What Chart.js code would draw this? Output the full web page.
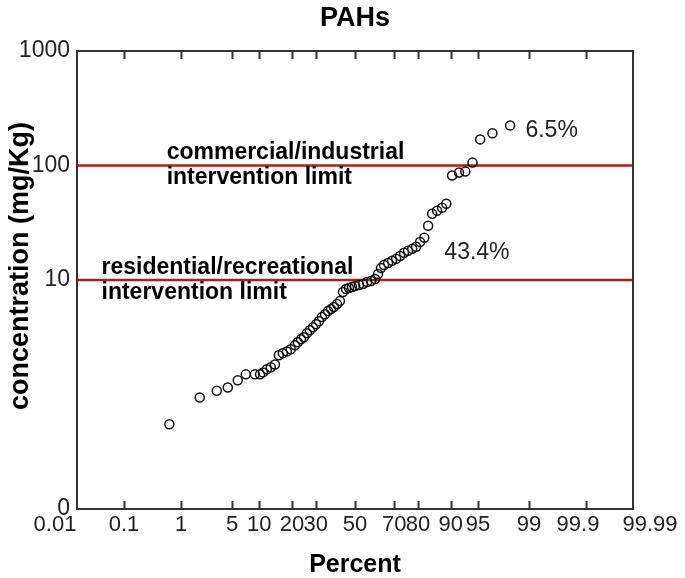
<!DOCTYPE html>
<html>
<head>
<meta charset="utf-8">
<script src="https://cdn.jsdelivr.net/npm/chart.js@4"></script>
<style>
  body { margin: 0; background: #fff; }
</style>
</head>
<body>
<canvas id="pahChart" width="685" height="578"></canvas>
<script>
// percent (normal probability scale) and concentration of each sample
const percent = [0.65, 1.89, 3.22, 4.44, 5.84, 7.20, 9.01, 10.2, 10.9, 11.9,
    13.0, 14.2, 15.4, 16.7, 18.1, 19.5, 21.1, 22.2, 23.5, 24.7,
    26.0, 27.3, 28.7, 30.1, 31.5, 32.9, 34.4, 35.9, 37.4, 38.9,
    40.5, 42.0, 43.6, 45.2, 46.8, 48.4, 50.0, 52.1, 54.3, 56.4,
    58.5, 60.6, 62.1, 63.6, 65.1, 67.1, 69.0, 70.9, 72.7, 74.4,
    76.1, 77.8, 79.3, 80.8, 82.3, 83.6, 84.9, 86.4, 87.8, 88.9,
    90.3, 91.8, 93.0, 94.2, 95.3, 96.7, 98.1];
const concentration = [0.55, 0.94, 1.08, 1.15, 1.33, 1.50, 1.50, 1.50, 1.56, 1.66,
    1.73, 1.83, 2.20, 2.29, 2.38, 2.48, 2.69, 2.86, 3.04, 3.16,
    3.43, 3.64, 3.87, 4.11, 4.37, 4.74, 5.03, 5.35, 5.57, 5.80,
    6.16, 6.54, 7.85, 8.34, 8.51, 8.68, 8.86, 9.04, 9.22, 9.60,
    9.80, 10.2, 11.3, 12.7, 13.5, 14.1, 14.7, 15.3, 16.2, 17.3,
    18.0, 18.7, 19.5, 21.5, 23.4, 29.8, 37.9, 40.3, 42.8, 46.4,
    81.7, 86.8, 88.6, 106, 169, 191, 224];

const xTicks = [0.01, 0.1, 1, 5, 10, 20, 30, 50, 70, 80, 90, 95, 99, 99.9, 99.99];
const yTicks = [0.1, 10, 100, 1000];
const yTickLabels = ['0', '10', '100', '1000'];
const limits = [100, 10];

const notes = [
    { lines: ['commercial/industrial', 'intervention limit'], x: 0.587, y: 130, bold: true },
    { lines: ['residential/recreational', 'intervention limit'], x: 0.0348, y: 12.7, bold: true },
    { lines: ['6.5%'], x: 98.87, y: 200, bold: false },
    { lines: ['43.4%'], x: 88.4, y: 17.4, bold: false }
];

const FONT = '"Liberation Sans", Arial, sans-serif';
// the end labels of the percent axis sit a little off their ticks
const labelNudge = { '0.01': -22, '99.9': -8, '99.99': 17 };

// inverse of the standard normal CDF (Acklam)
function probit(p) {
    const a = [-3.969683028665376e+01, 2.209460984245205e+02, -2.759285104469687e+02, 1.383577518672690e+02, -3.066479806614716e+01, 2.506628277459239e+00];
    const b = [-5.447609879822406e+01, 1.615858368580409e+02, -1.556989798598866e+02, 6.680131188771972e+01, -1.328068155288572e+01];
    const c = [-7.784894002430293e-03, -3.223964580411365e-01, -2.400758277161838e+00, -2.549732539343734e+00, 4.374664141464968e+00, 2.938163982698783e+00];
    const d = [7.784695709041462e-03, 3.224671290700398e-01, 2.445134137142996e+00, 3.754408661907416e+00];
    const plow = 0.02425;
    let q, r;
    if (p < plow) {
        q = Math.sqrt(-2 * Math.log(p));
        return (((((c[0] * q + c[1]) * q + c[2]) * q + c[3]) * q + c[4]) * q + c[5]) / ((((d[0] * q + d[1]) * q + d[2]) * q + d[3]) * q + 1);
    }
    if (p > 1 - plow) {
        q = Math.sqrt(-2 * Math.log(1 - p));
        return -(((((c[0] * q + c[1]) * q + c[2]) * q + c[3]) * q + c[4]) * q + c[5]) / ((((d[0] * q + d[1]) * q + d[2]) * q + d[3]) * q + 1);
    }
    q = p - 0.5;
    r = q * q;
    return (((((a[0] * r + a[1]) * r + a[2]) * r + a[3]) * r + a[4]) * r + a[5]) * q / (((((b[0] * r + b[1]) * r + b[2]) * r + b[3]) * r + b[4]) * r + 1);
}

const xMin = probit(xTicks[0] / 100);
const xMax = probit(xTicks[xTicks.length - 1] / 100);

const frameAndText = {
    id: 'frameAndText',
    afterDraw(chart) {
        const { ctx, chartArea: a, scales: { x, y } } = chart;
        ctx.save();
        ctx.strokeStyle = '#333';
        ctx.lineWidth = 2;
        ctx.strokeRect(a.left, a.top, a.right - a.left, a.bottom - a.top);
        ctx.beginPath();
        x.ticks.forEach(t => {
            const px = Math.round(x.getPixelForValue(t.value)) + 0.5;
            if (px <= a.left + 2 || px >= a.right - 2) return;
            ctx.moveTo(px, a.top);
            ctx.lineTo(px, a.top + 8);
            ctx.moveTo(px, a.bottom);
            ctx.lineTo(px, a.bottom - 8);
        });
        ctx.stroke();

        // percent tick labels
        ctx.fillStyle = '#222';
        ctx.font = '22px ' + FONT;
        ctx.textAlign = 'center';
        ctx.textBaseline = 'middle';
        xTicks.forEach(p => {
            const px = x.getPixelForValue(probit(p / 100)) + (labelNudge[String(p)] || 0);
            ctx.fillText(String(p), px, a.bottom + 16);
        });

        ctx.fillStyle = '#000';
        ctx.font = 'bold 27px ' + FONT;
        ctx.fillText('PAHs', (a.left + a.right) / 2, 19);

        // y axis title
        ctx.save();
        ctx.translate(21, 266);
        ctx.rotate(-Math.PI / 2);
        ctx.font = 'bold 27px ' + FONT;
        ctx.fillText('concentration (mg/Kg)', 0, 0);
        ctx.restore();

        ctx.textAlign = 'left';
        notes.forEach(n => {
            ctx.font = (n.bold ? 'bold ' : '') + '23px ' + FONT;
            ctx.fillStyle = n.bold ? '#000' : '#222';
            const px = x.getPixelForValue(probit(n.x / 100));
            const py = y.getPixelForValue(n.y);
            n.lines.forEach((line, i) => ctx.fillText(line, px, py + i * 25));
        });
        ctx.restore();
    }
};

const datasets = [{
    label: 'PAHs',
    data: percent.map((p, i) => ({ x: probit(p / 100), y: concentration[i] })),
    pointStyle: 'circle',
    pointRadius: 4.5,
    borderColor: '#111',
    borderWidth: 1.5,
    backgroundColor: 'rgba(0,0,0,0)',
    showLine: false
}];
limits.forEach(v => datasets.push({
    type: 'line',
    data: [{ x: xMin, y: v }, { x: xMax, y: v }],
    borderColor: '#b01c1c',
    borderWidth: 2.5,
    pointRadius: 0
}));

const ctx = document.getElementById('pahChart').getContext('2d');
const pahChart = new Chart(ctx, {
    type: 'scatter',
    data: { datasets: datasets },
    options: {
        responsive: false,
        animation: false,
        events: [],
        layout: { padding: { top: 51, right: 52, left: 0, bottom: 0 } },
        plugins: {
            legend: { display: false },
            tooltip: { enabled: false }
        },
        scales: {
            x: {
                type: 'linear',
                min: xMin,
                max: xMax,
                afterBuildTicks: s => { s.ticks = xTicks.map(p => ({ value: probit(p / 100) })); },
                afterFit: s => { s.height = 69; },
                grid: { display: false, drawTicks: false },
                border: { display: false },
                ticks: { display: false },
                title: {
                    display: true,
                    text: 'Percent',
                    color: '#000',
                    font: { family: FONT, size: 25, weight: 'bold', lineHeight: 1 },
                    padding: { top: 0, bottom: 0 }
                }
            },
            y: {
                type: 'logarithmic',
                min: yTicks[0],
                max: yTicks[yTicks.length - 1],
                afterBuildTicks: s => { s.ticks = yTicks.map(v => ({ value: v })); },
                afterFit: s => { s.width = 77; },
                grid: { display: false, drawTicks: false },
                border: { display: false },
                ticks: {
                    padding: 7,
                    color: '#222',
                    font: { family: FONT, size: 23 },
                    callback: (v, i) => yTickLabels[i]
                }
            }
        }
    },
    plugins: [frameAndText]
});
</script>
</body>
</html>
